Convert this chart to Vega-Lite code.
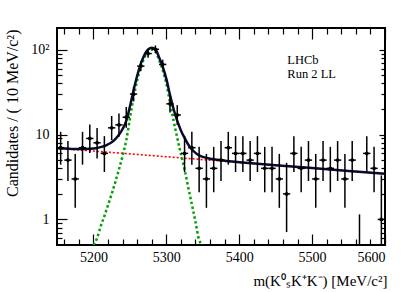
{
  "$schema": "https://vega.github.io/schema/vega-lite/v6.json",
  "width": 328,
  "height": 217,
  "autosize": "none",
  "padding": {"left": 57, "top": 28, "right": 22, "bottom": 47},
  "background": "white",
  "config": {
    "view": {"stroke": "black", "strokeWidth": 2},
    "axis": {"grid": false, "domain": false, "tickColor": "black", "tickWidth": 1.2, "labelColor": "black", "titleColor": "black", "labelFont": "Liberation Serif", "titleFont": "Liberation Serif", "labelFontSize": 14, "titleFontSize": 15, "titleFontWeight": "normal", "zindex": 1}
  },
  "datasets": {
    "hist": [
      {"m": 5155, "m_lo": 5150, "m_hi": 5160, "n": 7, "lo": 4.42, "hi": 10.77},
      {"m": 5165, "m_lo": 5160, "m_hi": 5170, "n": 5, "lo": 2.84, "hi": 8.38},
      {"m": 5175, "m_lo": 5170, "m_hi": 5180, "n": 3, "lo": 1.37, "hi": 5.92},
      {"m": 5185, "m_lo": 5180, "m_hi": 5190, "n": 7, "lo": 4.42, "hi": 10.77},
      {"m": 5195, "m_lo": 5190, "m_hi": 5200, "n": 9, "lo": 6.06, "hi": 13.11},
      {"m": 5205, "m_lo": 5200, "m_hi": 5210, "n": 8, "lo": 5.23, "hi": 11.95},
      {"m": 5215, "m_lo": 5210, "m_hi": 5220, "n": 6, "lo": 3.62, "hi": 9.58},
      {"m": 5225, "m_lo": 5220, "m_hi": 5230, "n": 12, "lo": 8.59, "hi": 16.55},
      {"m": 5235, "m_lo": 5230, "m_hi": 5240, "n": 13, "lo": 9.45, "hi": 17.69},
      {"m": 5245, "m_lo": 5240, "m_hi": 5250, "n": 16, "lo": 12.06, "hi": 21.08},
      {"m": 5255, "m_lo": 5250, "m_hi": 5260, "n": 30, "lo": 24.56, "hi": 36.47},
      {"m": 5265, "m_lo": 5260, "m_hi": 5270, "n": 64, "lo": 56.03, "hi": 73.0},
      {"m": 5275, "m_lo": 5270, "m_hi": 5280, "n": 90, "lo": 80.5, "hi": 100.5},
      {"m": 5285, "m_lo": 5280, "m_hi": 5290, "n": 101, "lo": 90.95, "hi": 112.05},
      {"m": 5295, "m_lo": 5290, "m_hi": 5300, "n": 67, "lo": 58.8, "hi": 76.2},
      {"m": 5305, "m_lo": 5300, "m_hi": 5310, "n": 23, "lo": 18.2, "hi": 28.8},
      {"m": 5315, "m_lo": 5310, "m_hi": 5320, "n": 17, "lo": 12.94, "hi": 22.2},
      {"m": 5325, "m_lo": 5320, "m_hi": 5330, "n": 6, "lo": 3.62, "hi": 9.58},
      {"m": 5335, "m_lo": 5330, "m_hi": 5340, "n": 7, "lo": 4.42, "hi": 10.77},
      {"m": 5345, "m_lo": 5340, "m_hi": 5350, "n": 4, "lo": 2.09, "hi": 7.16},
      {"m": 5355, "m_lo": 5350, "m_hi": 5360, "n": 3, "lo": 1.37, "hi": 5.92},
      {"m": 5365, "m_lo": 5360, "m_hi": 5370, "n": 4, "lo": 2.09, "hi": 7.16},
      {"m": 5375, "m_lo": 5370, "m_hi": 5380, "n": 5, "lo": 2.84, "hi": 8.38},
      {"m": 5385, "m_lo": 5380, "m_hi": 5390, "n": 7, "lo": 4.42, "hi": 10.77},
      {"m": 5395, "m_lo": 5390, "m_hi": 5400, "n": 6, "lo": 3.62, "hi": 9.58},
      {"m": 5405, "m_lo": 5400, "m_hi": 5410, "n": 6, "lo": 3.62, "hi": 9.58},
      {"m": 5415, "m_lo": 5410, "m_hi": 5420, "n": 5, "lo": 2.84, "hi": 8.38},
      {"m": 5425, "m_lo": 5420, "m_hi": 5430, "n": 6, "lo": 3.62, "hi": 9.58},
      {"m": 5435, "m_lo": 5430, "m_hi": 5440, "n": 4, "lo": 2.09, "hi": 7.16},
      {"m": 5445, "m_lo": 5440, "m_hi": 5450, "n": 4, "lo": 2.09, "hi": 7.16},
      {"m": 5455, "m_lo": 5450, "m_hi": 5460, "n": 3, "lo": 1.37, "hi": 5.92},
      {"m": 5465, "m_lo": 5460, "m_hi": 5470, "n": 2, "lo": 0.71, "hi": 4.64},
      {"m": 5475, "m_lo": 5470, "m_hi": 5480, "n": 6, "lo": 3.62, "hi": 9.58},
      {"m": 5485, "m_lo": 5480, "m_hi": 5490, "n": 4, "lo": 2.09, "hi": 7.16},
      {"m": 5495, "m_lo": 5490, "m_hi": 5500, "n": 5, "lo": 2.84, "hi": 8.38},
      {"m": 5505, "m_lo": 5500, "m_hi": 5510, "n": 3, "lo": 1.37, "hi": 5.92},
      {"m": 5515, "m_lo": 5510, "m_hi": 5520, "n": 5, "lo": 2.84, "hi": 8.38},
      {"m": 5525, "m_lo": 5520, "m_hi": 5530, "n": 4, "lo": 2.09, "hi": 7.16},
      {"m": 5535, "m_lo": 5530, "m_hi": 5540, "n": 5, "lo": 2.84, "hi": 8.38},
      {"m": 5545, "m_lo": 5540, "m_hi": 5550, "n": 3, "lo": 1.37, "hi": 5.92},
      {"m": 5555, "m_lo": 5550, "m_hi": 5560, "n": 5, "lo": 2.84, "hi": 8.38},
      {"m": 5565, "m_lo": 5560, "m_hi": 5570, "n": 0, "lo": 0, "hi": 1.148},
      {"m": 5575, "m_lo": 5570, "m_hi": 5580, "n": 6, "lo": 3.62, "hi": 9.58},
      {"m": 5585, "m_lo": 5580, "m_hi": 5590, "n": 4, "lo": 2.09, "hi": 7.16},
      {"m": 5595, "m_lo": 5590, "m_hi": 5600, "n": 1, "lo": 0.173, "hi": 3.3}
    ],
    "bkg": [
      {"m": 5150, "v": 6.9}, {"m": 5200, "v": 6.39}, {"m": 5250, "v": 5.92}, {"m": 5300, "v": 5.48},
      {"m": 5350, "v": 5.07}, {"m": 5400, "v": 4.7}, {"m": 5450, "v": 4.35}, {"m": 5500, "v": 4.02},
      {"m": 5550, "v": 3.73}, {"m": 5600, "v": 3.45}
    ],
    "sig": [
      {"m": 5200, "v": 0.447}, {"m": 5205, "v": 0.603}, {"m": 5210, "v": 0.832}, {"m": 5215, "v": 1.096},
      {"m": 5220, "v": 1.479}, {"m": 5225, "v": 1.995}, {"m": 5230, "v": 2.754}, {"m": 5235, "v": 3.89},
      {"m": 5240, "v": 5.623}, {"m": 5245, "v": 8.511}, {"m": 5250, "v": 15.38}, {"m": 5255, "v": 27.23},
      {"m": 5260, "v": 43.45}, {"m": 5265, "v": 62.66}, {"m": 5270, "v": 81.28}, {"m": 5275, "v": 94.8},
      {"m": 5280, "v": 100}, {"m": 5285, "v": 95.5}, {"m": 5290, "v": 75.9}, {"m": 5295, "v": 57.5},
      {"m": 5300, "v": 39.8}, {"m": 5305, "v": 24.0}, {"m": 5310, "v": 14.45}, {"m": 5315, "v": 9.12},
      {"m": 5320, "v": 5.89}, {"m": 5325, "v": 3.89}, {"m": 5330, "v": 2.4}, {"m": 5335, "v": 1.51},
      {"m": 5340, "v": 0.933}, {"m": 5345, "v": 0.575}, {"m": 5350, "v": 0.372}
    ],
    "tot": [
      {"m": 5150, "v": 6.93}, {"m": 5160, "v": 6.85}, {"m": 5170, "v": 6.78}, {"m": 5180, "v": 6.74},
      {"m": 5190, "v": 6.75}, {"m": 5200, "v": 6.84}, {"m": 5205, "v": 6.94}, {"m": 5210, "v": 7.12},
      {"m": 5215, "v": 7.34}, {"m": 5220, "v": 7.68}, {"m": 5225, "v": 8.14}, {"m": 5230, "v": 8.86},
      {"m": 5235, "v": 9.95}, {"m": 5240, "v": 11.63}, {"m": 5245, "v": 14.47}, {"m": 5250, "v": 21.3},
      {"m": 5255, "v": 33.1}, {"m": 5260, "v": 49.3}, {"m": 5265, "v": 68.4}, {"m": 5270, "v": 87.0},
      {"m": 5275, "v": 100.5}, {"m": 5280, "v": 105.6}, {"m": 5285, "v": 101.1}, {"m": 5290, "v": 81.5},
      {"m": 5295, "v": 63.0}, {"m": 5300, "v": 45.3}, {"m": 5305, "v": 29.4}, {"m": 5310, "v": 19.85},
      {"m": 5315, "v": 14.47}, {"m": 5320, "v": 11.2}, {"m": 5325, "v": 9.16}, {"m": 5330, "v": 7.63},
      {"m": 5335, "v": 6.7}, {"m": 5340, "v": 6.09}, {"m": 5345, "v": 5.69}, {"m": 5350, "v": 5.45},
      {"m": 5360, "v": 5.19}, {"m": 5370, "v": 5.04}, {"m": 5380, "v": 4.91}, {"m": 5400, "v": 4.73},
      {"m": 5450, "v": 4.36}, {"m": 5500, "v": 4.03}, {"m": 5550, "v": 3.73}, {"m": 5600, "v": 3.45}
    ],
    "labels": [
      {"m": 5466, "v": 68, "label": "LHCb"},
      {"m": 5466, "v": 46, "label": "Run 2 LL"}
    ]
  },
  "resolve": {"axis": {"x": "independent", "y": "independent"}},
  "layer": [
    {
      "data": {"name": "bkg"},
      "mark": {"type": "line", "color": "#ff0000", "strokeWidth": 1.6, "strokeDash": [2, 2], "interpolate": "monotone", "clip": true},
      "encoding": {
        "x": {"field": "m", "type": "quantitative", "scale": {"domain": [5150, 5600], "nice": false, "zero": false},
          "axis": {"orient": "bottom", "values": [5200, 5300, 5400, 5500, 5600], "format": "d", "tickSize": -11, "labelPadding": 16, "labelFlush": true,
            "title": "m(K⁰ₛK⁺K⁻) [MeV/c²]", "titleAnchor": "end", "titleAlign": "right", "titleBaseline": "alphabetic", "titleX": 330, "titleY": 40}},
        "y": {"field": "v", "type": "quantitative", "scale": {"type": "log", "domain": [0.5, 180], "nice": false, "clamp": true},
          "axis": {"orient": "left", "values": [1, 10, 100], "tickSize": -10, "labelPadding": 18,
            "labelExpr": "datum.value >= 100 ? '10²' : (datum.value >= 10 ? '10' : '1')",
            "title": "Candidates / ( 10 MeV/c²)", "titleFontSize": 16, "titleAngle": -90, "titleAlign": "right", "titleBaseline": "alphabetic", "titleX": -40, "titleY": 1}}
      }
    },
    {
      "data": {"name": "sig"},
      "mark": {"type": "line", "color": "#00a000", "strokeWidth": 2.5, "strokeDash": [2.5, 2.5], "interpolate": "monotone", "clip": true},
      "encoding": {
        "x": {"field": "m", "type": "quantitative", "scale": {"domain": [5150, 5600], "nice": false, "zero": false},
          "axis": {"orient": "bottom", "values": [5160, 5180, 5220, 5240, 5260, 5280, 5320, 5340, 5360, 5380, 5420, 5440, 5460, 5480, 5520, 5540, 5560, 5580], "tickSize": -6, "labels": false, "title": null}},
        "y": {"field": "v", "type": "quantitative", "scale": {"type": "log", "domain": [0.5, 180], "nice": false, "clamp": true},
          "axis": {"orient": "left", "values": [0.6, 0.7, 0.8, 0.9, 2, 3, 4, 5, 6, 7, 8, 9, 20, 30, 40, 50, 60, 70, 80, 90], "tickSize": -5, "labels": false, "title": null}}
      }
    },
    {
      "data": {"name": "tot"},
      "mark": {"type": "line", "color": "#0a0a30", "strokeWidth": 2.5, "interpolate": "monotone", "clip": true},
      "encoding": {
        "x": {"field": "m", "type": "quantitative", "scale": {"domain": [5150, 5600], "nice": false, "zero": false},
          "axis": {"orient": "top", "values": [5200, 5300, 5400, 5500, 5600], "tickSize": -11, "labels": false, "title": null}},
        "y": {"field": "v", "type": "quantitative", "scale": {"type": "log", "domain": [0.5, 180], "nice": false, "clamp": true},
          "axis": {"orient": "right", "values": [1, 10, 100], "tickSize": -6, "labels": false, "title": null}}
      }
    },
    {
      "data": {"name": "hist"},
      "transform": [{"filter": "datum.n > 0"}],
      "mark": {"type": "rule", "color": "black", "strokeWidth": 1.5, "clip": true},
      "encoding": {
        "x": {"field": "m_lo", "type": "quantitative", "scale": {"domain": [5150, 5600], "nice": false, "zero": false},
          "axis": {"orient": "top", "values": [5160, 5180, 5220, 5240, 5260, 5280, 5320, 5340, 5360, 5380, 5420, 5440, 5460, 5480, 5520, 5540, 5560, 5580], "tickSize": -6, "labels": false, "title": null}},
        "x2": {"field": "m_hi"},
        "y": {"field": "n", "type": "quantitative", "scale": {"type": "log", "domain": [0.5, 180], "nice": false, "clamp": true},
          "axis": {"orient": "right", "values": [0.6, 0.7, 0.8, 0.9, 2, 3, 4, 5, 6, 7, 8, 9, 20, 30, 40, 50, 60, 70, 80, 90], "tickSize": -4, "labels": false, "title": null}}
      }
    },
    {
      "data": {"name": "hist"},
      "mark": {"type": "rule", "color": "black", "strokeWidth": 1.5, "clip": true},
      "encoding": {
        "x": {"field": "m", "type": "quantitative", "axis": null},
        "y": {"field": "lo", "type": "quantitative", "axis": null},
        "y2": {"field": "hi"}
      }
    },
    {
      "data": {"name": "hist"},
      "transform": [{"filter": "datum.n > 0"}],
      "mark": {"type": "point", "filled": true, "color": "black", "size": 14, "opacity": 1, "clip": true},
      "encoding": {
        "x": {"field": "m", "type": "quantitative", "axis": null},
        "y": {"field": "n", "type": "quantitative", "axis": null}
      }
    },
    {
      "data": {"name": "labels"},
      "mark": {"type": "text", "font": "Liberation Serif", "fontSize": 12.5, "align": "left", "baseline": "alphabetic", "color": "black"},
      "encoding": {
        "x": {"field": "m", "type": "quantitative", "axis": null},
        "y": {"field": "v", "type": "quantitative", "axis": null},
        "text": {"field": "label"}
      }
    }
  ]
}
